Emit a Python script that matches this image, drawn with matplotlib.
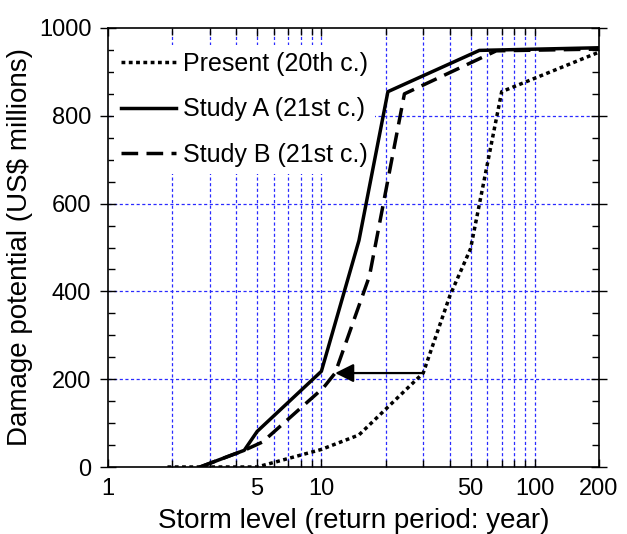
import matplotlib
matplotlib.use("Agg")
import matplotlib.pyplot as plt
from matplotlib.ticker import FixedLocator, NullFormatter, FixedFormatter

plt.rcParams['font.family'] = ['Liberation Sans', 'DejaVu Sans']

# Data
present_x = [1.9, 5, 10, 15, 30, 40, 50, 70, 200]
present_y = [0, 0, 40, 73, 214, 390, 497, 855, 945]

studyA_x = [2.7, 4.35, 5, 10, 15, 20.5, 55, 200]
studyA_y = [0, 38, 81, 218, 516, 855, 949, 955]

studyB_x = [2.7, 4.35, 5.3, 10.2, 11.6, 16.8, 24.5, 66, 200]
studyB_y = [0, 38, 57, 180, 214, 435, 850, 948, 952]

arrow_from = (30, 214)
arrow_to = (11.6, 214)

labels = ["Present (20th c.)", "Study A (21st c.)", "Study B (21st c.)"]
xmajor = [1, 5, 10, 50, 100, 200]
xminor = [2, 3, 4, 6, 7, 8, 9, 20, 30, 40, 60, 70, 80, 90]
xgrid = [2, 3, 4, 5, 6, 7, 8, 9, 10, 20, 30, 40, 50, 60, 70, 80, 90, 100]
ymajor = [0, 200, 400, 600, 800, 1000]
yminor = [50, 100, 150, 250, 300, 350, 450, 500, 550, 650, 700, 750, 850, 900, 950]

fig = plt.figure(figsize=(6.27, 5.34), dpi=100)
ax = fig.add_axes([108/627, 1 - 467/534, (599-108)/627, (467-28)/534])
ax.set_xscale('log')
ax.set_xlim(1, 200)
ax.set_ylim(0, 1000)

gridc = '#2a2aff'
for gx in xgrid:
    ax.axvline(gx, color=gridc, lw=0.9, ls=(0, (2.5, 2.0)), zorder=1)
for gy in [200, 400, 600, 800]:
    ax.axhline(gy, color=gridc, lw=0.9, ls=(0, (2.5, 2.0)), zorder=1)

lw = 2.5
l1, = ax.plot(present_x, present_y, color='k', lw=lw, ls=(0, (1.1, 1.0)),
              dash_capstyle='butt', zorder=3, label=labels[0])
l2, = ax.plot(studyA_x, studyA_y, color='k', lw=lw, ls='-', zorder=3, label=labels[1])
l3, = ax.plot(studyB_x, studyB_y, color='k', lw=lw, ls=(0, (4.8, 2.4)),
              dash_capstyle='butt', zorder=3, label=labels[2])

ax.annotate('', xy=arrow_to, xytext=arrow_from,
            arrowprops=dict(arrowstyle='-|>', lw=1.6, color='k',
                            mutation_scale=28, shrinkA=0, shrinkB=0),
            zorder=4)

ax.xaxis.set_major_locator(FixedLocator(xmajor))
ax.xaxis.set_major_formatter(FixedFormatter([str(v) for v in xmajor]))
ax.xaxis.set_minor_locator(FixedLocator(xminor))
ax.xaxis.set_minor_formatter(NullFormatter())
ax.yaxis.set_major_locator(FixedLocator(ymajor))
ax.yaxis.set_minor_locator(FixedLocator(yminor))

ax.tick_params(axis='both', which='major', labelsize=17, top=True, right=True)
ax.tick_params(axis='y', which='major', direction='inout', length=12, width=1, pad=6)
ax.tick_params(axis='x', which='major', direction='in', length=6, width=1, pad=8)
ax.tick_params(axis='both', which='minor', direction='in', length=5, width=1,
               top=True, right=True)

for s in ax.spines.values():
    s.set_linewidth(1.2)
    s.set_zorder(5)

ax.set_xlabel("Storm level (return period: year)", fontsize=20, labelpad=6)
ax.set_ylabel("Damage potential (US$ millions)", fontsize=20, labelpad=4)

leg = ax.legend(handles=[l1, l2, l3], loc='upper left',
                bbox_to_anchor=(0.012, 0.962), fontsize=18,
                frameon=True, framealpha=1, facecolor='white', edgecolor='none',
                fancybox=False, handlelength=2.2, handletextpad=0.25,
                labelspacing=0.85, borderpad=0.3, borderaxespad=0)
leg.set_zorder(2)

fig.savefig("out.png", dpi=100)
